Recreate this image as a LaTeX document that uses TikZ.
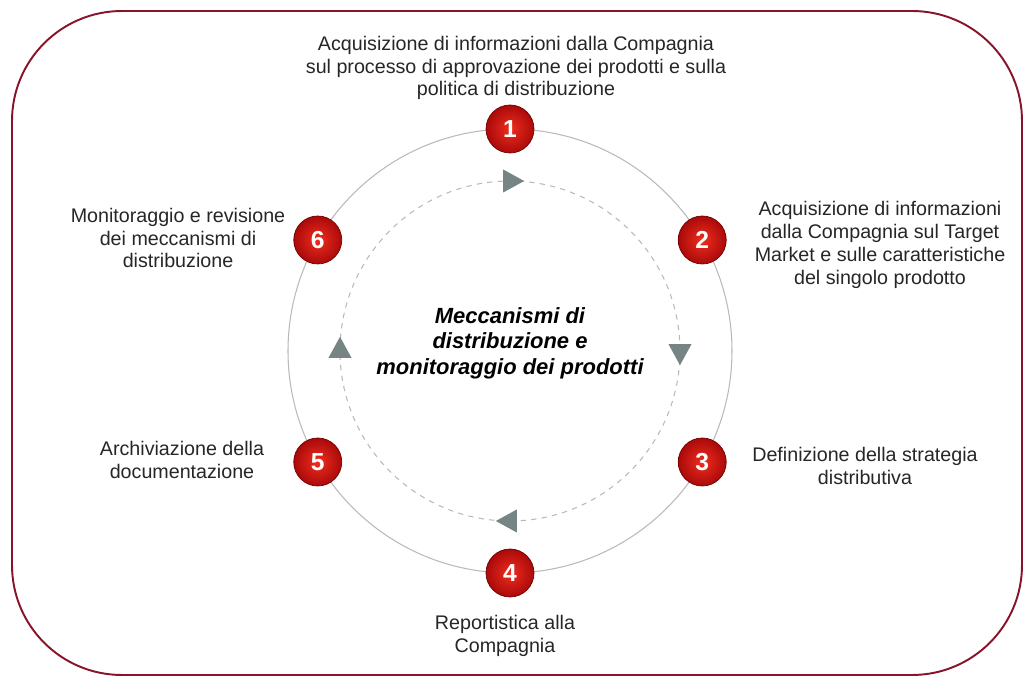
\documentclass[tikz,border=0pt]{standalone}
\usepackage{fontspec}
\setmainfont{Liberation Sans}
\usetikzlibrary{shapes.geometric}

\definecolor{framered}{RGB}{135,20,40}
\definecolor{tipgray}{RGB}{118,132,132}
\definecolor{ballin}{RGB}{240,45,30}
\definecolor{ballout}{RGB}{170,10,10}

\begin{document}
\begin{tikzpicture}[
    font=\fontsize{11.2}{13}\selectfont,
    stepball/.style={
        circle, shading=radial, inner color=ballin, outer color=ballout,
        draw=red!45!black, thin,
        minimum size=0.96cm, inner sep=0pt,
        text=white, font=\fontsize{14}{14}\selectfont\bfseries
    },
    %% Popis kroku
    desclbl/.style={align=center, text=black!85},
    %% Vonkajší kruh
    ringline/.style={draw=gray!55, line width=0.6pt},
    %% Vnútorný prerušovaný kruh
    flowline/.style={draw=gray!55, line width=0.6pt, dash pattern=on 3pt off 3pt},
    %% Šípka smeru (trojuholník)
    flowtip/.style={
        isosceles triangle, isosceles triangle stretches,
        fill=tipgray, inner sep=0pt,
        minimum width=0.46cm, minimum height=0.42cm
    },
    %% Nadpis v strede
    titlelbl/.style={align=center,
        font=\fontsize{12.5}{14.5}\selectfont\bfseries\itshape}
]
\useasboundingbox (0,0) rectangle (20.48,13.56);

%% Rámik
\draw[framered, line width=1.1pt, rounded corners=2.2cm]
    (0.24,0.06) rectangle (20.44,13.34);

%% ══════════════════════════════════════════════════════════════════
%% Kruh s krokmi
%% ══════════════════════════════════════════════════════════════════
\begin{scope}[shift={(10.2,6.54)}]
    \coordinate (ctr) at (0,0);

    \draw[ringline] (ctr) circle (4.44);
    \draw[flowline] (ctr) circle (3.4);

    %% Smer v smere hodinových ručičiek
    \foreach \a in {90, 0, -90, 180} {
        \node[flowtip, rotate=\a-90] (tip\a) at (\a:3.4) {};
    }

    %% Kroky 1--6
    \foreach \n/\a in {1/90, 2/30, 3/-30, 4/-90, 5/-150, 6/150} {
        \node[stepball] (s\n) at (\a:4.44) {\n};
    }

    \node[titlelbl] (title) at (0,0.16)
        {Meccanismi di\\distribuzione e\\monitoraggio dei prodotti};
\end{scope}

%% Popisy krokov
\node[desclbl] (lbl1) at (10.32,12.2)
    {Acquisizione di informazioni dalla Compagnia\\
     sul processo di approvazione dei prodotti e sulla\\
     politica di distribuzione};
\node[desclbl] (lbl2) at (17.6,8.66)
    {Acquisizione di informazioni\\dalla Compagnia sul Target\\
     Market e sulle caratteristiche\\del singolo prodotto};
\node[desclbl] (lbl3) at (17.3,4.24)
    {Definizione della strategia\\distributiva};
\node[desclbl] (lbl4) at (10.1,0.84)
    {Reportistica alla\\Compagnia};
\node[desclbl] (lbl5) at (3.64,4.36)
    {Archiviazione della\\documentazione};
\node[desclbl] (lbl6) at (3.56,8.8)
    {Monitoraggio e revisione\\dei meccanismi di\\distribuzione};

\end{tikzpicture}
\end{document}
